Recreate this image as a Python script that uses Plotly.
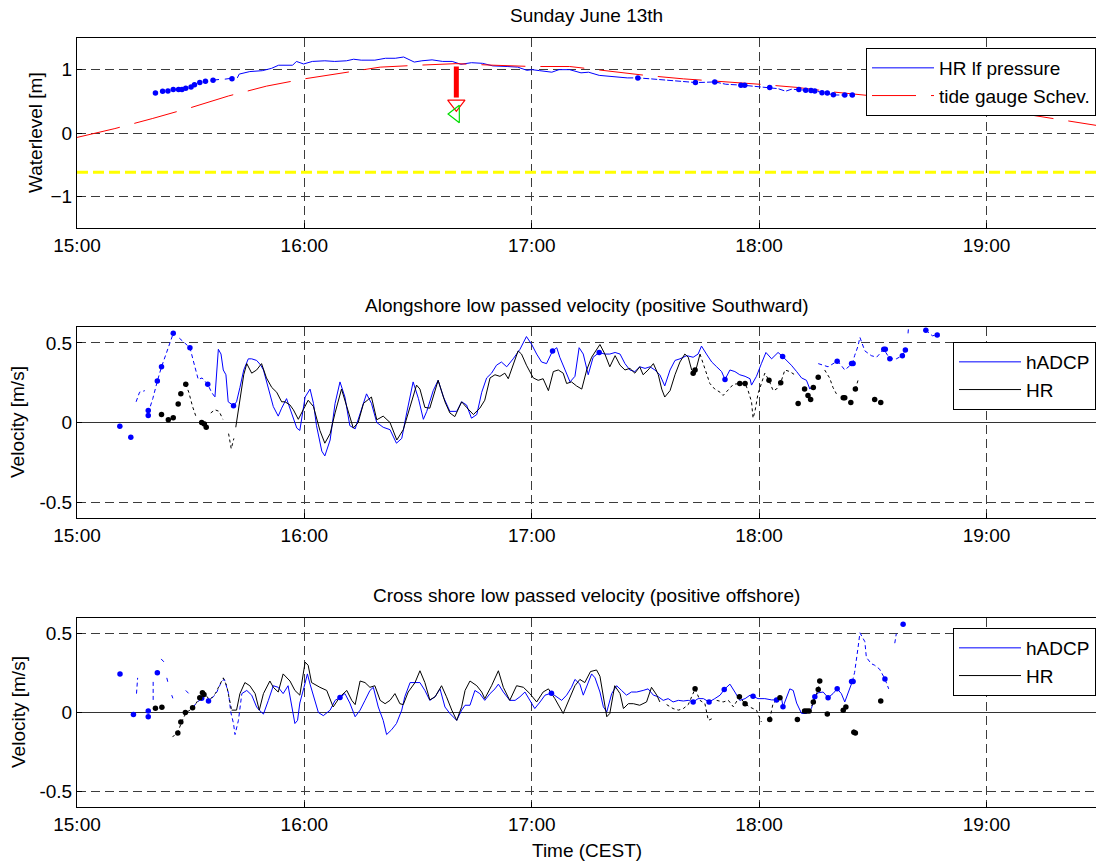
import plotly.graph_objects as go

FONT = "Liberation Sans, Arial, Helvetica, sans-serif"

# time axis: minutes after 15:00 (CEST)
TICK_MIN = [0, 60, 120, 180, 240]
TICK_TXT = ["15:00", "16:00", "17:00", "18:00", "19:00"]
X_END = 268.9

# ---------------- water level [m] ----------------
TIDE_GAUGE = [(0, -0.07), (10, 0.07), (20, 0.23), (30, 0.40), (40, 0.585), (50, 0.74), (60, 0.855),
              (70, 0.95), (80, 1.04), (90, 1.07), (100, 1.095), (110, 1.07), (120, 1.05), (130, 1.05),
              (140, 0.975), (150, 0.91), (160, 0.855), (170, 0.815), (180, 0.77), (190, 0.72),
              (200, 0.645), (210, 0.585), (220, 0.52), (230, 0.46), (240, 0.39), (250, 0.30),
              (260, 0.20), (269, 0.12)]

HR_PRESSURE = [(42.3, 0.87), (42.8, 0.93), (45.6, 0.97), (48.9, 0.984), (51.3, 1.02), (53.2, 1.07),
               (56.9, 1.07), (57.9, 1.13), (59.8, 1.09), (62.1, 1.13), (65.4, 1.14), (68.0, 1.13),
               (71.1, 1.14), (73.0, 1.165), (75.0, 1.15), (78.6, 1.15), (81.4, 1.18), (84.0, 1.18),
               (86.2, 1.2), (87.6, 1.155), (89.0, 1.12), (91.0, 1.14), (93.7, 1.155), (96.5, 1.13),
               (99.0, 1.13), (101.3, 1.085), (104.1, 1.11), (107.0, 1.10), (109.7, 1.06), (113.5, 1.05),
               (116.3, 1.04), (118.7, 0.99), (120.1, 1.0), (122.0, 0.985), (124.0, 0.97), (125.3, 0.96),
               (127.2, 1.0), (130.0, 1.0), (133.0, 0.95), (135.0, 0.96), (137.8, 0.91), (140.1, 0.90),
               (143.0, 0.89), (145.2, 0.87)]
HR_PRESSURE_GAPPY = [(35.9, 0.834), (37.5, 0.845), None, (39.0, 0.85), (40.9, 0.865), None,
                     (145.2, 0.87), (148.0, 0.87), (151.4, 0.855), (155.6, 0.834), (158.0, 0.82),
                     (160.5, 0.81), (163.2, 0.797), (165.5, 0.80), (168.3, 0.807), (171.2, 0.77),
                     (173.5, 0.765), (175.8, 0.754), (178.6, 0.738), (180.5, 0.73), (182.8, 0.72),
                     (185.0, 0.70), (187.0, 0.66), (188.5, 0.69), (190.5, 0.685), (194.5, 0.665),
                     (197.9, 0.63), (199.6, 0.60), (204.0, 0.60)]
HR_PRESSURE_DOTS = [(20.7, 0.63), (22.6, 0.66), (24.0, 0.663), (25.4, 0.685), (26.8, 0.685), (27.7, 0.685),
                    (28.7, 0.706), (30.1, 0.727), (31.0, 0.76), (32.4, 0.797), (33.9, 0.818), (35.9, 0.834),
                    (40.9, 0.856), (148.0, 0.87), (163.2, 0.797), (168.3, 0.807), (175.2, 0.754),
                    (176.2, 0.754), (182.8, 0.72), (190.5, 0.685), (192.3, 0.674), (193.7, 0.67),
                    (194.7, 0.663), (196.6, 0.636), (198.0, 0.631), (199.6, 0.604), (202.6, 0.60),
                    (204.6, 0.60)]
REF_LEVEL = -0.62
ARROW_TIME = 100.1
ARROW_TOP, ARROW_TAIL, ARROW_HEAD = 1.05, 0.56, 0.46
GREEN_MARK = (99.9, 0.30)

# ---------------- alongshore velocity [m/s] ----------------
ALONG_HADCP = [(36.4, 0.16), (37.3, 0.46), (38.0, 0.43), (38.6, 0.33), (39.3, 0.30), (39.9, 0.13), (41.3, 0.106),
               (42.1, 0.13), (43.0, 0.22), (44.0, 0.33), (45.2, 0.40), (46.1, 0.40), (47.4, 0.39), (48.5, 0.36),
               (49.2, 0.33), (50.5, 0.21), (51.8, 0.10), (53.1, 0.04), (54.0, 0.09), (55.3, 0.15), (56.6, 0.06),
               (58.0, -0.035), (58.8, -0.05), (60.2, 0.16), (61.5, 0.21), (62.4, 0.12), (63.2, -0.02),
               (64.6, -0.18), (65.4, -0.21), (66.8, -0.11), (68.1, 0.12), (69.4, 0.255), (70.7, 0.16),
               (72.0, -0.02), (73.4, -0.04), (75.1, 0.09), (76.4, 0.18), (77.7, 0.12), (79.1, 0.0),
               (80.8, -0.03), (82.6, -0.045), (84.3, -0.13), (85.7, -0.10), (87.0, 0.06), (88.7, 0.255),
               (90.1, 0.15), (91.4, 0.02), (92.3, 0.07), (94.0, 0.20), (95.3, 0.265), (96.7, 0.16), (98.4, 0.07),
               (100.2, 0.07), (101.5, 0.13), (102.8, 0.11), (104.1, 0.027), (105.5, 0.05), (106.8, 0.19),
               (108.1, 0.28), (109.4, 0.31), (110.7, 0.36), (112.0, 0.38), (113.4, 0.35), (115.1, 0.40),
               (116.9, 0.46), (118.6, 0.54), (120.0, 0.49), (121.3, 0.43), (122.6, 0.38), (123.9, 0.37),
               (125.5, 0.45), (126.6, 0.47), (127.4, 0.41), (128.8, 0.33), (130.1, 0.255), (131.4, 0.29),
               (132.5, 0.47), (133.6, 0.43), (134.9, 0.30), (136.2, 0.41), (137.8, 0.44), (139.3, 0.43),
               (140.6, 0.43), (142.0, 0.44), (143.3, 0.43), (144.6, 0.37), (145.9, 0.33), (147.2, 0.32),
               (148.5, 0.35), (149.9, 0.34), (151.2, 0.35), (152.5, 0.33), (153.8, 0.30), (155.1, 0.23),
               (156.5, 0.33), (157.8, 0.39), (159.1, 0.40), (160.9, 0.42), (162.6, 0.41), (163.9, 0.43),
               (164.8, 0.48), (166.1, 0.43), (167.5, 0.38), (168.8, 0.35), (170.1, 0.32), (171.0, 0.27),
               (172.3, 0.33), (173.6, 0.32), (174.9, 0.30), (176.3, 0.29), (177.6, 0.275), (178.0, 0.235),
               (179.3, 0.29), (180.6, 0.37), (181.8, 0.44), (183.3, 0.40), (185.0, 0.44), (186.2, 0.415),
               (187.7, 0.38), (188.5, 0.36), (189.9, 0.32), (191.2, 0.28), (192.5, 0.265), (193.4, 0.21)]
ALONG_HADCP_GAPPY = [(15.6, 0.13), (16.5, 0.19), (17.9, 0.20), None, (18.8, 0.06), (20.0, 0.15), (21.2, 0.26),
                     (22.3, 0.35), (23.5, 0.43), (24.5, 0.50), (25.4, 0.56), None, (27.0, 0.53), (28.5, 0.50),
                     (29.8, 0.47), (31.0, 0.36), (32.0, 0.27), (33.0, 0.28), (34.5, 0.24), (35.5, 0.19),
                     (36.4, 0.16), None,
                     (193.4, 0.21), (194.2, 0.235), None, (195.6, 0.37), (196.9, 0.36), (198.2, 0.35),
                     (200.6, 0.385), (201.3, 0.37), (202.6, 0.33), (204.6, 0.37), (205.2, 0.42), (206.1, 0.48),
                     (206.6, 0.535), (207.9, 0.45), (209.6, 0.42), (211.0, 0.41), (212.9, 0.46), (214.5, 0.40),
                     (216.2, 0.40), (217.8, 0.42), (218.6, 0.455), None, (219.3, 0.56), (219.4, 0.59), None,
                     (224.0, 0.58), (225.7, 0.545), (227.0, 0.55)]
ALONG_HADCP_DOTS = [(11.3, -0.023), (14.2, -0.093), (18.8, 0.075), (18.8, 0.044), (21.2, 0.26), (22.3, 0.35),
                    (25.4, 0.56), (29.8, 0.47), (34.5, 0.24), (41.3, 0.106), (125.5, 0.45), (137.8, 0.44),
                    (171.0, 0.27), (186.2, 0.415), (200.6, 0.385), (204.4, 0.37), (204.8, 0.37),
                    (212.9, 0.46), (213.3, 0.46), (214.5, 0.40), (217.8, 0.42), (218.6, 0.455),
                    (224.0, 0.58), (227.0, 0.55)]

ALONG_HR = [(41.9, -0.03), (42.6, 0.08), (43.0, 0.16), (44.0, 0.30), (44.8, 0.37), (46.1, 0.31), (47.4, 0.33),
            (48.7, 0.37), (50.0, 0.28), (51.4, 0.22), (52.7, 0.19), (54.0, 0.13), (54.9, 0.13), (56.2, 0.11),
            (57.1, 0.08), (58.4, 0.02), (59.7, 0.08), (61.0, 0.14), (62.4, 0.10), (64.1, -0.05), (65.4, -0.13),
            (66.8, -0.07), (68.1, 0.06), (69.8, 0.21), (71.2, 0.10), (72.9, -0.035), (74.2, 0.0), (75.6, 0.12),
            (76.9, 0.145), (77.7, 0.16), (79.1, 0.017), (80.8, 0.04), (82.6, 0.0), (84.4, -0.11),
            (86.1, -0.045), (88.3, 0.14), (89.6, 0.235), (90.5, 0.21), (91.8, 0.095), (93.1, 0.09),
            (95.3, 0.265), (97.1, 0.13), (98.4, 0.06), (99.7, 0.037), (101.5, 0.13), (102.8, 0.095),
            (104.6, 0.05), (106.3, 0.09), (107.6, 0.14), (109.0, 0.28), (110.3, 0.30), (111.6, 0.29),
            (112.9, 0.31), (113.8, 0.275), (115.1, 0.37), (116.4, 0.45), (117.3, 0.43), (118.6, 0.36),
            (120.4, 0.28), (121.7, 0.265), (123.0, 0.275), (124.4, 0.20), (125.7, 0.32), (127.0, 0.33),
            (128.3, 0.31), (129.2, 0.245), (130.5, 0.255), (131.8, 0.23), (133.2, 0.21), (134.5, 0.33),
            (135.8, 0.41), (138.0, 0.49), (139.3, 0.43), (140.6, 0.35), (142.0, 0.42), (143.3, 0.36),
            (144.6, 0.33), (145.9, 0.34), (147.2, 0.31), (148.5, 0.35), (149.4, 0.30), (150.7, 0.33),
            (152.1, 0.37), (153.4, 0.30), (154.3, 0.21), (155.1, 0.16), (156.5, 0.20), (157.8, 0.30),
            (159.1, 0.38), (160.4, 0.43), (161.3, 0.41), (162.2, 0.33), (163.1, 0.31), (164.4, 0.43)]
ALONG_HR_GAPPY = [(28.7, 0.24), (29.5, 0.19), (30.5, 0.10), (31.5, 0.03), None, (35.3, 0.06), (36.4, 0.08),
                  (37.5, 0.07), (38.5, 0.02), None, (40.0, -0.07), (40.7, -0.165), (41.4, -0.10), None,
                  (164.4, 0.43), (165.7, 0.33), (167.0, 0.245), (168.3, 0.21), (169.7, 0.19), (170.5, 0.17),
                  (171.9, 0.205), (173.2, 0.24), (174.9, 0.245), (176.3, 0.245), (177.1, 0.20), (178.0, 0.13),
                  (178.4, 0.027), (178.9, 0.07), (179.7, 0.18), (181.5, 0.31), (182.6, 0.265), (183.7, 0.20),
                  (184.6, 0.21), (185.7, 0.25), (186.8, 0.33), (188.1, 0.32), (189.4, 0.30), None,
                  (197.3, 0.33), (198.6, 0.28), (199.5, 0.22), (200.4, 0.18), None, (205.4, 0.21),
                  (206.1, 0.265)]
ALONG_HR_DOTS = [(22.3, 0.05), (24.1, 0.017), (25.4, 0.03), (26.7, 0.116), (27.4, 0.18), (28.7, 0.24),
                 (32.9, 0.0), (33.6, -0.01), (34.1, -0.03), (162.6, 0.31), (163.1, 0.33), (174.9, 0.245),
                 (176.3, 0.245), (182.6, 0.265), (185.7, 0.25), (190.3, 0.12), (192.0, 0.21), (192.9, 0.17),
                 (193.6, 0.145), (194.3, 0.22), (195.6, 0.285), (202.2, 0.155), (202.6, 0.155),
                 (204.2, 0.125), (205.4, 0.21), (210.5, 0.145), (212.1, 0.125)]

# ---------------- cross-shore velocity [m/s] ----------------
CROSS_HADCP = [(43.5, 0.12), (44.8, 0.14), (46.1, 0.11), (47.4, 0.035), (48.1, 0.015), (49.2, -0.01),
               (50.5, 0.077), (51.8, 0.17), (53.1, 0.16), (54.4, 0.12), (55.7, 0.17), (56.6, 0.06),
               (57.5, -0.07), (58.2, -0.05), (58.8, 0.06), (59.9, 0.16), (60.8, 0.245), (61.5, 0.18),
               (62.4, 0.10), (63.7, 0.0), (65.0, -0.02), (66.8, 0.015), (68.1, 0.077), (69.4, 0.095),
               (70.7, 0.12), (72.0, 0.06), (73.4, -0.027), (74.7, 0.015), (76.0, 0.077), (77.3, 0.14),
               (78.2, 0.16), (79.5, 0.035), (80.8, -0.05), (81.7, -0.14), (83.0, -0.11), (84.3, -0.07),
               (85.7, 0.015), (86.5, 0.10), (87.9, 0.19), (89.2, 0.19), (90.5, 0.19), (91.8, 0.14),
               (93.1, 0.077), (94.5, 0.10), (95.8, 0.15), (97.1, 0.035), (98.4, -0.006), (100.2, -0.05),
               (101.5, 0.015), (102.4, 0.046), (103.7, 0.046), (105.0, 0.14), (106.3, 0.12), (107.6, 0.077),
               (109.0, 0.12), (110.3, 0.15), (111.2, 0.18), (112.5, 0.13), (114.2, 0.077), (115.6, 0.077),
               (116.9, 0.10), (118.2, 0.13), (119.5, 0.077), (120.8, 0.025), (122.2, 0.067), (123.5, 0.11),
               (125.2, 0.123), (126.6, 0.10), (127.9, 0.077), (129.2, 0.11), (130.5, 0.16), (131.4, 0.21),
               (132.7, 0.18), (133.6, 0.11), (134.9, 0.19), (135.8, 0.245), (136.7, 0.22), (138.0, 0.13),
               (138.9, 0.036), (139.8, 0.004), (141.1, 0.12), (142.4, 0.17), (143.7, 0.14), (145.0, 0.11),
               (146.3, 0.13), (147.7, 0.13), (149.4, 0.14), (150.7, 0.15), (152.1, 0.11), (153.4, 0.10),
               (154.7, 0.077), (156.0, 0.088), (157.3, 0.067), (158.7, 0.077), (160.0, 0.073),
               (161.3, 0.077), (162.6, 0.067), (163.9, 0.088), (165.3, 0.088), (166.8, 0.067),
               (168.3, 0.088), (169.7, 0.11), (170.8, 0.146), (172.3, 0.18), (173.6, 0.13), (174.9, 0.077),
               (176.3, 0.088), (177.6, 0.11), (178.4, 0.103), (179.7, 0.088), (181.5, 0.088), (183.3, 0.08),
               (184.6, 0.08), (185.9, 0.094), (186.3, 0.036), (187.2, 0.10), (188.1, 0.15), (189.0, 0.14),
               (189.9, 0.06), (191.2, -0.006), (192.5, -0.006), (193.8, 0.025), (194.7, 0.10),
               (195.6, 0.125), (196.9, 0.13), (198.2, 0.094), (199.5, 0.12), (200.6, 0.15), (201.7, 0.12),
               (202.6, 0.067), (203.5, 0.13), (204.6, 0.197)]
CROSS_HADCP_GAPPY = [(15.7, 0.12), (16.0, 0.22), None, (20.1, 0.08), (20.1, 0.20), None, (22.2, 0.34),
                     (23.0, 0.32), None, (23.7, 0.22), (24.0, 0.19), None, (25.0, 0.11), (25.3, 0.09), None,
                     (28.7, 0.14), (29.5, 0.12), None, (30.7, 0.035), (31.5, 0.06), (32.9, 0.09), (34.0, 0.11),
                     (34.7, 0.073), (36.0, 0.10), (36.9, 0.13), (38.2, 0.20), (38.9, 0.21), (40.0, 0.12),
                     (40.6, 0.0), (41.3, -0.07), (41.7, -0.14), (42.6, -0.05), (43.5, 0.12), None,
                     (204.6, 0.197), (205.2, 0.255), (206.1, 0.41), (206.6, 0.506), (207.9, 0.45),
                     (208.3, 0.35), (209.6, 0.31), (210.5, 0.30), (211.8, 0.275), (213.2, 0.213),
                     (214.2, 0.15), None, (215.8, 0.44), (216.2, 0.50)]
CROSS_HADCP_DOTS = [(11.35, 0.245), (14.9, -0.013), (18.8, 0.01), (18.8, -0.027), (21.2, 0.253), (32.9, 0.09),
                    (34.7, 0.073), (69.4, 0.095), (125.2, 0.123), (162.6, 0.067), (166.8, 0.067),
                    (170.8, 0.146), (178.4, 0.103), (184.6, 0.08), (186.3, 0.036), (194.7, 0.10),
                    (198.2, 0.094), (200.6, 0.15), (204.4, 0.197), (204.8, 0.197), (213.2, 0.213),
                    (218.0, 0.56)]

CROSS_HR = [(40.8, 0.015), (42.1, 0.015), (43.0, 0.12), (44.3, 0.19), (45.6, 0.17), (47.0, 0.12), (48.1, 0.015),
            (49.2, 0.12), (50.9, 0.20), (51.8, 0.16), (53.1, 0.13), (54.4, 0.245), (56.2, 0.20), (57.5, 0.14),
            (58.8, 0.11), (60.2, 0.32), (61.0, 0.30), (61.9, 0.19), (64.1, 0.16), (65.9, 0.14), (67.6, 0.035),
            (69.4, 0.10), (71.2, 0.14), (72.5, 0.077), (73.4, 0.05), (74.7, 0.20), (76.0, 0.19), (77.3, 0.16),
            (78.6, 0.17), (80.0, 0.077), (81.3, 0.056), (82.6, 0.077), (83.9, 0.12), (85.2, 0.056),
            (86.1, 0.05), (87.4, 0.13), (89.2, 0.19), (90.5, 0.265), (91.8, 0.19), (93.1, 0.08), (94.5, 0.10),
            (96.2, 0.17), (97.5, 0.10), (98.9, 0.015), (100.2, -0.05), (101.5, 0.036), (102.4, 0.14),
            (103.7, 0.20), (105.5, 0.17), (106.8, 0.13), (107.6, 0.088), (109.4, 0.17), (111.2, 0.265),
            (112.5, 0.16), (114.2, 0.077), (116.0, 0.17), (117.8, 0.16), (119.5, 0.12), (121.3, 0.067),
            (123.0, 0.13), (124.4, 0.15), (126.1, 0.088), (128.3, -0.006), (130.1, 0.10), (131.4, 0.17),
            (132.7, 0.21), (134.0, 0.19), (135.5, 0.26), (137.1, 0.27), (138.0, 0.23), (138.9, 0.10),
            (139.8, -0.027), (140.6, -0.006), (141.9, 0.17), (143.3, 0.12), (144.2, 0.025),
            (145.5, 0.056), (146.8, 0.056), (148.5, 0.046), (150.3, 0.067), (151.6, 0.16), (153.0, 0.11),
            (153.8, 0.067)]
CROSS_HR_GAPPY = [(25.2, -0.156), (26.0, -0.14), (26.7, -0.12), (27.6, -0.06), (28.8, 0.0), (30.5, 0.025),
                  (32.4, 0.094), (33.5, 0.125), (35.0, 0.08), (36.5, 0.12), (37.5, 0.17), (38.6, 0.22),
                  (39.5, 0.17), (40.8, 0.015), None,
                  (155.6, 0.05), (157.3, 0.025), (158.7, 0.015), (160.0, 0.025), (161.3, 0.05), (163.1, 0.15),
                  (164.4, 0.077), (165.7, 0.056), (166.6, -0.05), (167.5, -0.04), None, (168.8, 0.077),
                  (170.5, 0.067), (171.9, 0.077), (173.2, 0.036), (174.8, 0.10), (176.3, 0.056),
                  (177.5, 0.035), (179.3, 0.015), (180.6, -0.06), None, (182.8, -0.044), (183.7, 0.06),
                  (185.5, 0.094), None, (191.6, 0.008), (193.4, 0.01), (194.3, 0.067), (195.6, 0.146),
                  (196.0, 0.2), None, (204.9, -0.11), (205.7, -0.12)]
CROSS_HR_DOTS = [(20.7, 0.027), (22.4, 0.034), (26.6, -0.13), (27.4, -0.06), (28.6, 0.0), (30.5, 0.03),
                 (32.4, 0.094), (33.1, 0.125), (33.5, 0.115), (163.1, 0.15), (174.8, 0.10), (176.3, 0.056),
                 (182.8, -0.044), (185.5, 0.094), (190.1, -0.044), (192.0, 0.01), (192.6, 0.01),
                 (193.2, 0.01), (194.3, 0.067), (195.6, 0.146), (196.0, 0.2), (198.0, -0.01),
                 (202.2, 0.015), (202.9, 0.035), (205.0, -0.125), (205.4, -0.13), (212.1, 0.073)]

BLUE = "#0000ff"
BLACK = "#000000"
RED = "#ff0000"


def split(pairs):
    xs, ys = [], []
    for p in pairs:
        if p is None:
            xs.append(None)
            ys.append(None)
        else:
            xs.append(p[0])
            ys.append(p[1])
    return xs, ys


fig = go.Figure()


def add_line(pairs, color, axis, width=1.0, dash="solid", name=None, legend=None):
    xs, ys = split(pairs)
    fig.add_trace(go.Scatter(
        x=xs, y=ys, mode="lines", xaxis="x" + axis, yaxis="y" + axis,
        line=dict(color=color, width=width, dash=dash), connectgaps=False,
        name=name or "", showlegend=name is not None, legend=legend, hoverinfo="skip"))


def add_dots(pairs, color, axis, size=5.5):
    xs, ys = split(pairs)
    fig.add_trace(go.Scatter(
        x=xs, y=ys, mode="markers", xaxis="x" + axis, yaxis="y" + axis,
        marker=dict(color=color, size=size, line=dict(width=0)), showlegend=False, hoverinfo="skip"))


# panel 1: water level
fig.add_trace(go.Scatter(x=[0, X_END], y=[REF_LEVEL, REF_LEVEL], mode="lines", xaxis="x", yaxis="y",
                         line=dict(color="#ffff00", width=3, dash="11px,5px"), showlegend=False,
                         hoverinfo="skip"))
add_line(HR_PRESSURE, BLUE, "", name="HR lf pressure", legend="legend")
add_line(TIDE_GAUGE, RED, "", dash="44px,15px", name="tide gauge Schev.", legend="legend")
add_line(HR_PRESSURE_GAPPY, BLUE, "", dash="6px,2px")
add_dots(HR_PRESSURE_DOTS, BLUE, "")
fig.add_trace(go.Scatter(x=[ARROW_TIME, ARROW_TIME], y=[ARROW_TOP, ARROW_TAIL], mode="lines",
                         xaxis="x", yaxis="y", line=dict(color=RED, width=5), showlegend=False,
                         hoverinfo="skip"))
fig.add_trace(go.Scatter(x=[ARROW_TIME], y=[ARROW_HEAD], mode="markers", xaxis="x", yaxis="y",
                         marker=dict(symbol="triangle-down-open", size=15, color=RED, line=dict(width=1.2)),
                         showlegend=False, hoverinfo="skip"))
fig.add_trace(go.Scatter(x=[GREEN_MARK[0]], y=[GREEN_MARK[1]], mode="markers", xaxis="x", yaxis="y",
                         marker=dict(symbol="triangle-left-open", size=15, color="#00dd00",
                                     line=dict(width=1.2)),
                         showlegend=False, hoverinfo="skip"))

# panel 2: alongshore velocity
add_line(ALONG_HADCP, BLUE, "2", name="hADCP", legend="legend2")
add_line(ALONG_HR, BLACK, "2", name="HR", legend="legend2")
add_line(ALONG_HADCP_GAPPY, BLUE, "2", dash="4px,3px")
add_line(ALONG_HR_GAPPY, BLACK, "2", dash="3px,3px")
add_dots(ALONG_HADCP_DOTS, BLUE, "2")
add_dots(ALONG_HR_DOTS, BLACK, "2")

# panel 3: cross-shore velocity
add_line(CROSS_HADCP, BLUE, "3", name="hADCP", legend="legend3")
add_line(CROSS_HR, BLACK, "3", name="HR", legend="legend3")
add_line(CROSS_HADCP_GAPPY, BLUE, "3", dash="4px,3px")
add_line(CROSS_HR_GAPPY, BLACK, "3", dash="3px,3px")
add_dots(CROSS_HADCP_DOTS, BLUE, "3")
add_dots(CROSS_HR_DOTS, BLACK, "3")

W, H = 1096, 863
X0 = 77 / W
FS = 19


def ydom(top_px, bottom_px):
    return [1 - bottom_px / H, 1 - top_px / H]


grid = dict(showgrid=True, gridcolor="#3c3c3c", gridwidth=1, griddash="9px,5px",
            showline=True, linecolor="black", linewidth=1, ticks="inside", ticklen=5,
            tickcolor="black", tickfont=dict(family=FONT, size=FS, color="black"),
            automargin=False)


def xax(anchor):
    return dict(grid, domain=[X0, 1.0], range=[0, X_END], anchor=anchor, mirror=True,
                tickmode="array", tickvals=TICK_MIN, ticktext=TICK_TXT, zeroline=False)


fig.update_layout(
    width=W, height=H, margin=dict(l=0, r=0, t=0, b=0, autoexpand=False),
    paper_bgcolor="white", plot_bgcolor="white",
    font=dict(family=FONT, size=FS, color="black"),
    xaxis=xax("y"), xaxis2=xax("y2"), xaxis3=xax("y3"),
    yaxis=dict(grid, domain=ydom(38, 228), range=[-1.5, 1.5], anchor="x",
               tickvals=[-1, 0, 1], zeroline=False),
    yaxis2=dict(grid, domain=ydom(327, 518), range=[-0.6, 0.6], anchor="x2",
                tickvals=[-0.5, 0, 0.5], ticktext=["-0.5", "0", "0.5"],
                zeroline=True, zerolinecolor="#333333", zerolinewidth=1),
    yaxis3=dict(grid, domain=ydom(618, 807), range=[-0.6, 0.6], anchor="x3",
                tickvals=[-0.5, 0, 0.5], ticktext=["-0.5", "0", "0.5"],
                zeroline=True, zerolinecolor="#333333", zerolinewidth=1),
    showlegend=True,
)

legend_style = dict(bgcolor="white", bordercolor="black", borderwidth=1,
                    font=dict(family=FONT, size=FS, color="black"), xanchor="right", yanchor="top",
                    tracegroupgap=0, itemwidth=62)
fig.update_layout(
    legend=dict(legend_style, x=1096 / W, y=1 - 48 / H),
    legend2=dict(legend_style, x=1096 / W, y=1 - 342 / H),
    legend3=dict(legend_style, x=1096 / W, y=1 - 628 / H),
)

XC = (77 + 1096) / 2 / W
notes = [
    dict(text="Sunday June 13th", x=XC, y=1 - 16 / H),
    dict(text="Alongshore low passed velocity (positive Southward)", x=XC, y=1 - 305 / H),
    dict(text="Cross shore low passed velocity (positive offshore)", x=XC, y=1 - 595 / H),
    dict(text="Time (CEST)", x=XC, y=1 - 850 / H),
    dict(text="Waterlevel [m]", x=35 / W, y=1 - 133 / H, textangle=-90),
    dict(text="Velocity [m/s]", x=18 / W, y=1 - 422 / H, textangle=-90),
    dict(text="Velocity [m/s]", x=18 / W, y=1 - 712 / H, textangle=-90),
]
for n in notes:
    fig.add_annotation(xref="paper", yref="paper", showarrow=False, xanchor="center", yanchor="middle",
                       font=dict(family=FONT, size=FS, color="black"), **n)

fig.write_html("out.html")
